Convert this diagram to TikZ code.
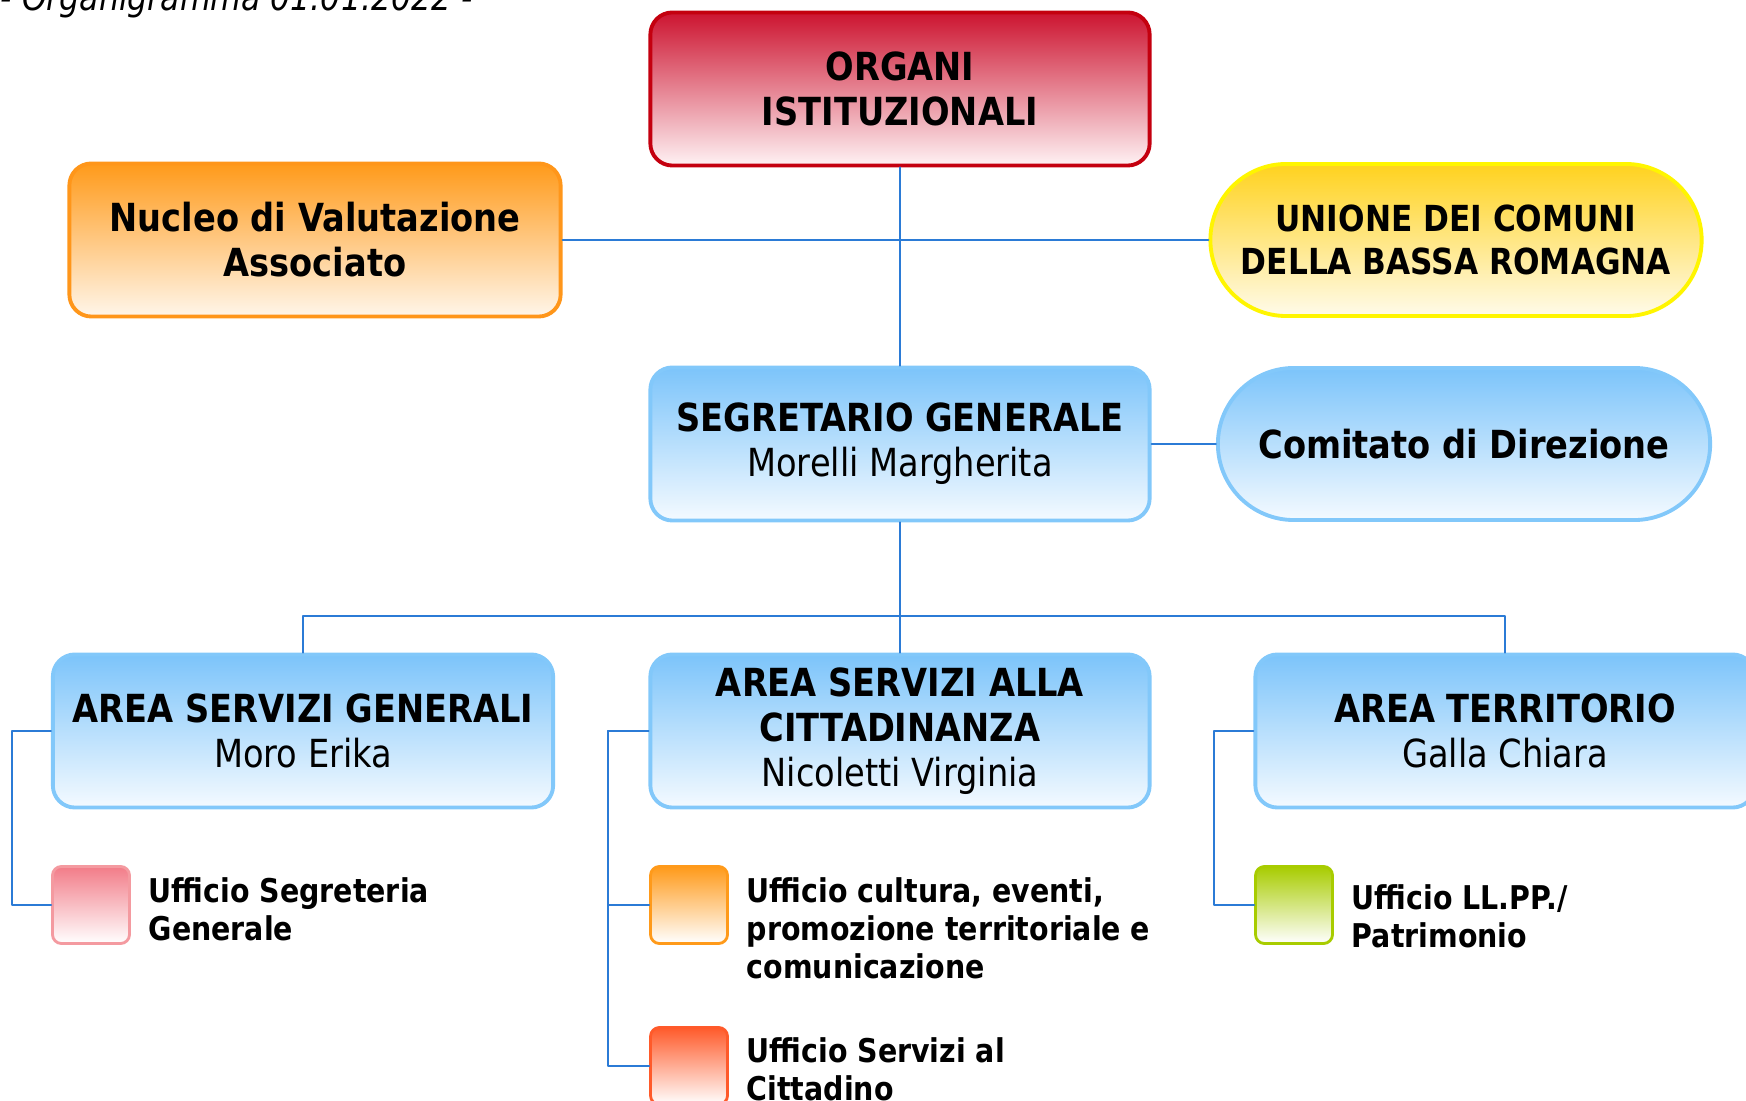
\documentclass[tikz,border=0pt]{standalone}
\usepackage{fontspec}
\setmainfont{DejaVu Sans}[FakeStretch=0.87]
\usetikzlibrary{shapes.misc,shadings}
\definecolor{linkblue}{HTML}{2B7BD6}
\definecolor{blueedge}{HTML}{82C8FA}
\definecolor{bluetop}{HTML}{7CC4FA}
\definecolor{bluebot}{HTML}{F4FAFF}
\definecolor{rededge}{HTML}{C4000F}
\definecolor{redtop}{HTML}{CC1430}
\definecolor{redbot}{HTML}{FFF2F4}
\definecolor{orangeedge}{HTML}{FF961A}
\definecolor{orangetop}{HTML}{FF9A1A}
\definecolor{orangebot}{HTML}{FFF6EA}
\definecolor{yellowedge}{HTML}{FFF500}
\definecolor{yellowtop}{HTML}{FFD21E}
\definecolor{yellowbot}{HTML}{FFFBEA}
\definecolor{pinkedge}{HTML}{F49AA0}
\definecolor{pinktop}{HTML}{F27C88}
\definecolor{cultedge}{HTML}{FF9A1A}
\definecolor{serviedge}{HTML}{FF5A2A}
\definecolor{greenedge}{HTML}{A8CC00}
\begin{document}
\begin{tikzpicture}[x=0.01cm,y=-0.01cm,line join=round,line cap=round]
	\tikzset{
		box/.style={draw,line width=1.1pt,rounded corners=0.22cm,minimum width=4.99cm,minimum height=1.53cm,
			align=center,inner sep=0pt,font=\fontsize{11}{12.8}\selectfont},
		pill/.style={box,sharp corners,shape=rounded rectangle,minimum width=4.91cm,minimum height=1.52cm},
		bluebox/.style={draw=blueedge,top color=bluetop,bottom color=bluebot},
		sq/.style={draw,line width=0.8pt,rounded corners=0.09cm,minimum size=0.77cm,inner sep=0pt},
		sub/.style={anchor=north west,align=left,inner sep=0pt,font=\fontsize{9.3}{10.8}\selectfont\bfseries},
		link/.style={draw=linkblue,line width=0.6pt}
	}
	\useasboundingbox (0,0) rectangle (1746,1101);
	\node[anchor=base west,inner sep=0pt,font=\fontsize{10.3}{12}\selectfont\itshape] (titolo) at (0,11) {- Organigramma 01.01.2022 -};
	% livelli superiori
	\node[box,draw=rededge,top color=redtop,bottom color=redbot] (organi) at (900,89) {\textbf{ORGANI}\\\textbf{ISTITUZIONALI}};
	\node[box,draw=orangeedge,top color=orangetop,bottom color=orangebot,minimum width=4.91cm] (nucleo) at (315,240) {\textbf{Nucleo di Valutazione}\\\textbf{Associato}};
	\node[pill,draw=yellowedge,top color=yellowtop,bottom color=yellowbot,font=\fontsize{10.2}{12.2}\selectfont] (unione) at (1456,240) {\textbf{UNIONE DEI COMUNI}\\\textbf{DELLA BASSA ROMAGNA}};
	\node[box,bluebox] (segr) at (900,444) {\textbf{SEGRETARIO GENERALE}\\Morelli Margherita};
	\node[pill,bluebox,minimum width=4.92cm] (comitato) at (1464,444) {\textbf{Comitato di Direzione}};
	% aree
	\node[box,bluebox,minimum width=5cm] (asg) at (303,731) {\textbf{AREA SERVIZI GENERALI}\\Moro Erika};
	\node[box,bluebox] (asc) at (900,731) {\textbf{AREA SERVIZI ALLA}\\\textbf{CITTADINANZA}\\Nicoletti Virginia};
	\node[box,bluebox] (atr) at (1505,731) {\textbf{AREA TERRITORIO}\\Galla Chiara};
	% uffici
	\node[sq,draw=pinkedge,top color=pinktop,bottom color=white] (segreteria) at (91,905) {};
	\node[sq,draw=cultedge,top color=cultedge,bottom color=white] (cultura) at (689,905) {};
	\node[sq,draw=serviedge,top color=serviedge,bottom color=white] (servizi) at (689,1066) {};
	\node[sq,draw=greenedge,top color=greenedge,bottom color=white] (llpp) at (1294,905) {};
	\node[sub] (tsegreteria) at (148,877) {Ufficio Segreteria\\Generale};
	\node[sub] (tcultura) at (746,877) {Ufficio cultura, eventi,\\promozione territoriale e\\comunicazione};
	\node[sub] (tservizi) at (746,1037) {Ufficio Servizi al\\Cittadino};
	\node[sub] (tllpp) at (1351,884) {Ufficio LL.PP./\\Patrimonio};
	% collegamenti
	\coordinate (bus) at (900,616);
	\draw[link] (organi) -- (segr);
	\draw[link] (nucleo) -- (unione);
	\draw[link] (segr) -- (comitato);
	\draw[link] (segr) -- (asc);
	\draw[link] (asg.north) |- (bus) -| (atr.north);
	\draw[link] (asg.west) -- ++(-39,0) |- (segreteria.west);
	\draw[link] (asc.west) -- ++(-40,0) |- (cultura.west);
	\draw[link] (asc.west) -- ++(-40,0) |- (servizi.west);
	\draw[link] (atr.west) -- ++(-39,0) |- (llpp.west);
\end{tikzpicture}
\end{document}
